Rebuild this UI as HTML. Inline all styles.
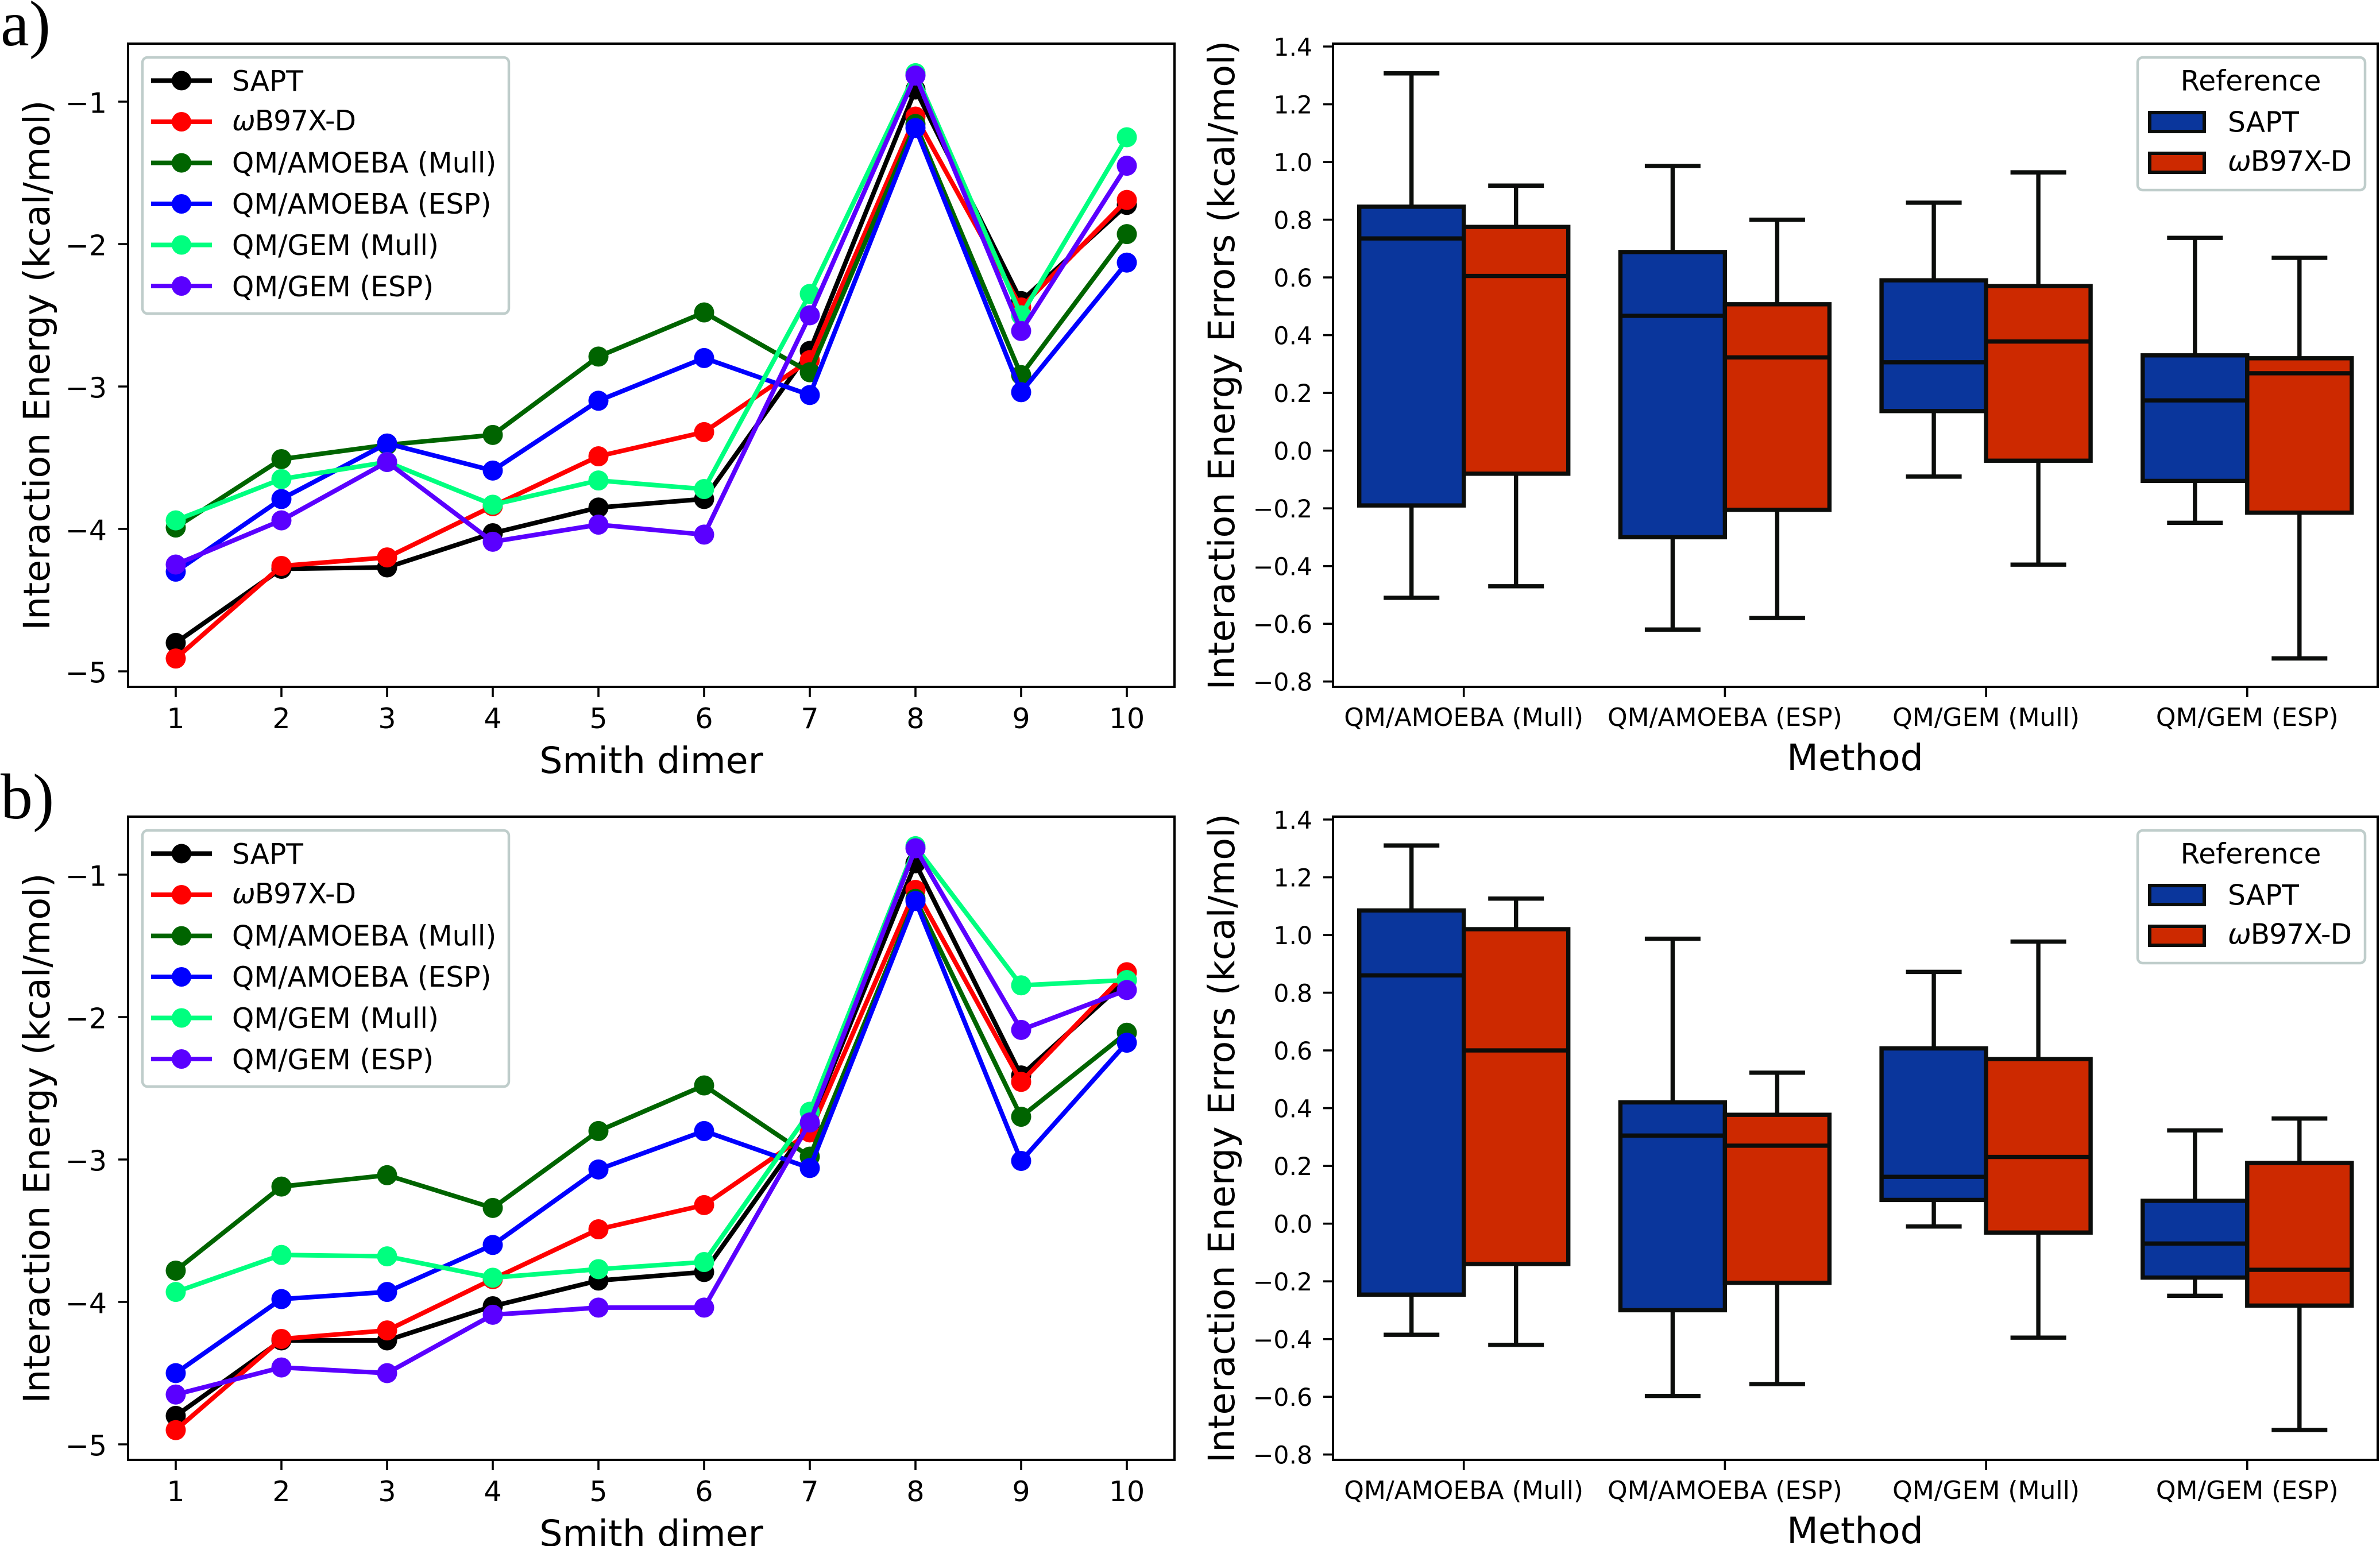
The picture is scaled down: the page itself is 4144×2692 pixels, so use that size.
<!DOCTYPE html>
<html lang="en">
<head>
<meta charset="utf-8">
<title>Interaction energies and errors</title>
<style>
html,body{margin:0;padding:0;background:#fff;}
svg{display:block;}
text{font-family:"DejaVu Sans","Liberation Sans",sans-serif;fill:#000;}
.panel-tag{font-family:"Liberation Serif",serif;font-size:112px;}
.axis-title{font-size:63.4px;}
.leg{font-size:48.6px;}
.leg-box{fill:#fff;stroke:#bfcdcb;stroke-width:4.5;}
</style>
</head>
<body>
<svg id="fig" xmlns="http://www.w3.org/2000/svg" width="4144" height="2692" viewBox="0 0 4144 2692">
  <rect x="0" y="0" width="4144" height="2692" fill="#fff"/>

  <!-- Panel a -->
  <g id="panel-a">
    <text class="panel-tag" x="1" y="79">a)</text>
    <g id="a-line"></g>
    <g id="a-box"></g>
    <text class="axis-title" transform="translate(86,636) rotate(-90)" text-anchor="middle">Interaction Energy (kcal/mol)</text>
    <text class="axis-title" x="1134" y="1346" text-anchor="middle">Smith dimer</text>
    <text class="axis-title" transform="translate(2149,636) rotate(-90)" text-anchor="middle">Interaction Energy Errors (kcal/mol)</text>
    <text class="axis-title" x="3230" y="1341" text-anchor="middle">Method</text>
    <g>
      <rect class="leg-box" x="248" y="100" width="638" height="446" rx="9"/>
      <g><line x1="263" x2="369" y1="140.4" y2="140.4" stroke="#000" stroke-width="8"/><circle cx="316" cy="140.4" r="17" fill="#000"/><text class="leg" x="404" y="158">SAPT</text></g>
      <g><line x1="263" x2="369" y1="212" y2="212" stroke="#f00" stroke-width="8"/><circle cx="316" cy="212" r="17" fill="#f00"/><text class="leg" x="404" y="227" textLength="216"><tspan font-style="italic">ω</tspan>B97X-D</text></g>
      <g><line x1="263" x2="369" y1="283.6" y2="283.6" stroke="#006400" stroke-width="8"/><circle cx="316" cy="283.6" r="17" fill="#006400"/><text class="leg" x="404" y="300.5">QM/AMOEBA (Mull)</text></g>
      <g><line x1="263" x2="369" y1="355" y2="355" stroke="#00f" stroke-width="8"/><circle cx="316" cy="355" r="17" fill="#00f"/><text class="leg" x="404" y="372">QM/AMOEBA (ESP)</text></g>
      <g><line x1="263" x2="369" y1="426.5" y2="426.5" stroke="#00ff7f" stroke-width="8"/><circle cx="316" cy="426.5" r="17" fill="#00ff7f"/><text class="leg" x="404" y="444">QM/GEM (Mull)</text></g>
      <g><line x1="263" x2="369" y1="498" y2="498" stroke="#5a00ff" stroke-width="8"/><circle cx="316" cy="498" r="17" fill="#5a00ff"/><text class="leg" x="404" y="516">QM/GEM (ESP)</text></g>
    </g>
    <g>
      <rect class="leg-box" x="3722" y="100" width="396" height="231" rx="9"/>
      <text class="leg" x="3919" y="157.5" text-anchor="middle">Reference</text>
      <g><rect x="3743" y="196" width="95" height="33" fill="#0a369c" stroke="#0b0d0b" stroke-width="6"/><text class="leg" x="3879" y="229.5">SAPT</text></g>
      <g><rect x="3743" y="267" width="95" height="33" fill="#cd2900" stroke="#0b0d0b" stroke-width="6"/><text class="leg" x="3879" y="297.5" textLength="216"><tspan font-style="italic">ω</tspan>B97X-D</text></g>
    </g>
  </g>

  <!-- Panel b -->
  <g id="panel-b" transform="translate(0,1346)">
    <text class="panel-tag" x="1" y="79">b)</text>
    <g id="b-line"></g>
    <g id="b-box"></g>
    <text class="axis-title" transform="translate(86,636) rotate(-90)" text-anchor="middle">Interaction Energy (kcal/mol)</text>
    <text class="axis-title" x="1134" y="1346" text-anchor="middle">Smith dimer</text>
    <text class="axis-title" transform="translate(2149,636) rotate(-90)" text-anchor="middle">Interaction Energy Errors (kcal/mol)</text>
    <text class="axis-title" x="3230" y="1341" text-anchor="middle">Method</text>
    <g>
      <rect class="leg-box" x="248" y="100" width="638" height="446" rx="9"/>
      <g><line x1="263" x2="369" y1="140.4" y2="140.4" stroke="#000" stroke-width="8"/><circle cx="316" cy="140.4" r="17" fill="#000"/><text class="leg" x="404" y="158">SAPT</text></g>
      <g><line x1="263" x2="369" y1="212" y2="212" stroke="#f00" stroke-width="8"/><circle cx="316" cy="212" r="17" fill="#f00"/><text class="leg" x="404" y="227" textLength="216"><tspan font-style="italic">ω</tspan>B97X-D</text></g>
      <g><line x1="263" x2="369" y1="283.6" y2="283.6" stroke="#006400" stroke-width="8"/><circle cx="316" cy="283.6" r="17" fill="#006400"/><text class="leg" x="404" y="300.5">QM/AMOEBA (Mull)</text></g>
      <g><line x1="263" x2="369" y1="355" y2="355" stroke="#00f" stroke-width="8"/><circle cx="316" cy="355" r="17" fill="#00f"/><text class="leg" x="404" y="372">QM/AMOEBA (ESP)</text></g>
      <g><line x1="263" x2="369" y1="426.5" y2="426.5" stroke="#00ff7f" stroke-width="8"/><circle cx="316" cy="426.5" r="17" fill="#00ff7f"/><text class="leg" x="404" y="444">QM/GEM (Mull)</text></g>
      <g><line x1="263" x2="369" y1="498" y2="498" stroke="#5a00ff" stroke-width="8"/><circle cx="316" cy="498" r="17" fill="#5a00ff"/><text class="leg" x="404" y="516">QM/GEM (ESP)</text></g>
    </g>
    <g>
      <rect class="leg-box" x="3722" y="100" width="396" height="231" rx="9"/>
      <text class="leg" x="3919" y="157.5" text-anchor="middle">Reference</text>
      <g><rect x="3743" y="196" width="95" height="33" fill="#0a369c" stroke="#0b0d0b" stroke-width="6"/><text class="leg" x="3879" y="229.5">SAPT</text></g>
      <g><rect x="3743" y="267" width="95" height="33" fill="#cd2900" stroke="#0b0d0b" stroke-width="6"/><text class="leg" x="3879" y="297.5" textLength="216"><tspan font-style="italic">ω</tspan>B97X-D</text></g>
    </g>
  </g>
</svg>

<script>
// ---------- shared categories and ticks ----------
const dimers = [1, 2, 3, 4, 5, 6, 7, 8, 9, 10];
const energyTicks = [-1, -2, -3, -4, -5];
const energyTickLabels = ['\u22121', '\u22122', '\u22123', '\u22124', '\u22125'];
const methods = ['QM/AMOEBA (Mull)', 'QM/AMOEBA (ESP)', 'QM/GEM (Mull)', 'QM/GEM (ESP)'];
const errorTicks = [1.4, 1.2, 1.0, 0.8, 0.6, 0.4, 0.2, 0.0, -0.2, -0.4, -0.6, -0.8];
const errorTickLabels = ['1.4', '1.2', '1.0', '0.8', '0.6', '0.4', '0.2', '0.0', '\u22120.2', '\u22120.4', '\u22120.6', '\u22120.8'];

// ---------- panel a: energies ----------
const aSapt = [-4.80, -4.28, -4.27, -4.03, -3.85, -3.79, -2.75, -0.915, -2.40, -1.725];
const aWb97 = [-4.91, -4.26, -4.20, -3.84, -3.49, -3.32, -2.815, -1.105, -2.445, -1.69];
const aAmoebaMull = [-3.99, -3.51, -3.41, -3.34, -2.79, -2.48, -2.90, -1.157, -2.92, -1.93];
const aAmoebaEsp = [-4.30, -3.79, -3.40, -3.59, -3.10, -2.80, -3.06, -1.185, -3.04, -2.13];
const aGemMull = [-3.94, -3.65, -3.53, -3.83, -3.66, -3.72, -2.35, -0.80, -2.50, -1.25];
const aGemEsp = [-4.25, -3.94, -3.53, -4.09, -3.97, -4.04, -2.50, -0.817, -2.61, -1.45];

// ---------- panel b: energies ----------
const bSapt = [-4.80, -4.27, -4.27, -4.03, -3.85, -3.79, -2.75, -0.92, -2.41, -1.74];
const bWb97 = [-4.90, -4.26, -4.20, -3.84, -3.49, -3.32, -2.81, -1.107, -2.455, -1.685];
const bAmoebaMull = [-3.78, -3.19, -3.11, -3.34, -2.80, -2.48, -2.98, -1.17, -2.70, -2.11];
const bAmoebaEsp = [-4.50, -3.98, -3.93, -3.60, -3.07, -2.80, -3.06, -1.185, -3.01, -2.18];
const bGemMull = [-3.93, -3.67, -3.68, -3.83, -3.77, -3.72, -2.665, -0.80, -1.777, -1.74];
const bGemEsp = [-4.65, -4.46, -4.50, -4.09, -4.04, -4.04, -2.74, -0.815, -2.09, -1.81];

// ---------- panel a: error box statistics (one value per method) ----------
const aSaptHigh = [1.307, 0.986, 0.859, 0.737];
const aSaptQ3 = [0.845, 0.688, 0.59, 0.33];
const aSaptMedian = [0.735, 0.467, 0.306, 0.174];
const aSaptQ1 = [-0.19, -0.30, 0.137, -0.105];
const aSaptLow = [-0.51, -0.62, -0.09, -0.25];
const aWbHigh = [0.918, 0.80, 0.964, 0.668];
const aWbQ3 = [0.775, 0.507, 0.57, 0.32];
const aWbMedian = [0.605, 0.323, 0.378, 0.268];
const aWbQ1 = [-0.08, -0.205, -0.035, -0.215];
const aWbLow = [-0.47, -0.58, -0.395, -0.72];

// ---------- panel b: error box statistics ----------
const bSaptHigh = [1.31, 0.987, 0.872, 0.323];
const bSaptQ3 = [1.085, 0.42, 0.607, 0.079];
const bSaptMedian = [0.86, 0.305, 0.162, -0.069];
const bSaptQ1 = [-0.246, -0.30, 0.082, -0.187];
const bSaptLow = [-0.385, -0.597, -0.01, -0.25];
const bWbHigh = [1.126, 0.523, 0.977, 0.364];
const bWbQ3 = [1.02, 0.377, 0.57, 0.21];
const bWbMedian = [0.60, 0.27, 0.231, -0.16];
const bWbQ1 = [-0.14, -0.205, -0.031, -0.284];
const bWbLow = [-0.42, -0.556, -0.395, -0.715];

// ---------- axis functions ----------
function xDimer(d) { return 306 + (d - 1) * 184; }
function yEnergy(v) { return 177 + (-1 - v) * 248; }
function xMethod(i) { return 2548.7 + i * 454.7; }
function yError(v) { return 81 + (1.4 - v) * 502.6; }

const NS = 'http://www.w3.org/2000/svg';
const INK = '#0b0d0b';

function make(tag, parent, attrs) {
  const el = document.createElementNS(NS, tag);
  for (const k in attrs) el.setAttribute(k, attrs[k]);
  parent.appendChild(el);
  return el;
}

function drawSeries(parent, values, color) {
  const pts = values.map((v, i) => xDimer(dimers[i]) + ',' + yEnergy(v)).join(' ');
  const line = make('polyline', parent, { points: pts, fill: 'none', stroke: color, 'stroke-width': 8, 'stroke-linejoin': 'round', 'stroke-linecap': 'square' });
  
  
  values.forEach((v, i) => {
    const c = make('circle', parent, { cx: xDimer(dimers[i]), cy: yEnergy(v), r: 17.5, fill: color });
    
    
  });
}

function drawFrame(parent, x0, y0, x1, y1) {
  const f = make('rect', parent, { x: x0, y: y0, width: x1 - x0, height: y1 - y0, fill: 'none', stroke: '#000', 'stroke-width': 4 });
  
  
}

function tickMark(parent, x1, y1, x2, y2) {
  const t = make('line', parent, { x1: x1, y1: y1, x2: x2, y2: y2, stroke: '#000', 'stroke-width': 3.6 });
  
  
}

function tickLabel(parent, x, y, str, anchor, size) {
  const t = make('text', parent, { x: x, y: y, 'text-anchor': anchor, 'font-size': size });
  t.textContent = str;
  
  
}

function drawEnergyChart(id, seriesList) {
  const g = document.getElementById(id);
  const colors = ['#000000', '#ff0000', '#006400', '#0000ff', '#00ff7f', '#5a00ff'];
  seriesList.forEach((values, i) => drawSeries(g, values, colors[i]));
  drawFrame(g, 223, 76, 2045, 1196);
  energyTicks.forEach((v, i) => {
    tickMark(g, 206, yEnergy(v), 223, yEnergy(v));
    tickLabel(g, 186, yEnergy(v) + 19.5, energyTickLabels[i], 'end', 49);
  });
  dimers.forEach(d => {
    tickMark(g, xDimer(d), 1196, xDimer(d), 1214);
    tickLabel(g, xDimer(d), 1268, String(d), 'middle', 49);
  });
}

function drawOneBox(g, cx, high, q3, med, q1, low, fill) {
  const halfBox = 91, halfCap = 48.5, lw = 7.4;
  const whiskerTop = make('line', g, { x1: cx, x2: cx, y1: yError(high), y2: yError(q3), stroke: INK, 'stroke-width': lw });
  
  
  const whiskerBottom = make('line', g, { x1: cx, x2: cx, y1: yError(q1), y2: yError(low), stroke: INK, 'stroke-width': lw });
  
  
  const capTop = make('line', g, { x1: cx - halfCap, x2: cx + halfCap, y1: yError(high), y2: yError(high), stroke: INK, 'stroke-width': lw });
  
  
  const capBottom = make('line', g, { x1: cx - halfCap, x2: cx + halfCap, y1: yError(low), y2: yError(low), stroke: INK, 'stroke-width': lw });
  
  
  const box = make('rect', g, { x: cx - halfBox, y: yError(q3), width: halfBox * 2, height: yError(q1) - yError(q3), fill: fill, stroke: INK, 'stroke-width': lw });
  
  
  const median = make('line', g, { x1: cx - halfBox, x2: cx + halfBox, y1: yError(med), y2: yError(med), stroke: INK, 'stroke-width': lw });
  
  
}

function drawErrorChart(id, sapt, wb) {
  const g = document.getElementById(id);
  methods.forEach((m, i) => {
    drawOneBox(g, xMethod(i) - 91, sapt[0][i], sapt[1][i], sapt[2][i], sapt[3][i], sapt[4][i], '#0a369c');
    drawOneBox(g, xMethod(i) + 91, wb[0][i], wb[1][i], wb[2][i], wb[3][i], wb[4][i], '#cd2900');
  });
  drawFrame(g, 2321, 76, 4140, 1196);
  errorTicks.forEach((v, i) => {
    tickMark(g, 2304, yError(v), 2321, yError(v));
    tickLabel(g, 2285, yError(v) + 16, errorTickLabels[i], 'end', 42.5);
  });
  methods.forEach((m, i) => {
    tickMark(g, xMethod(i), 1196, xMethod(i), 1214);
    tickLabel(g, xMethod(i), 1264, m, 'middle', 44);
  });
}

drawEnergyChart('a-line', [aSapt, aWb97, aAmoebaMull, aAmoebaEsp, aGemMull, aGemEsp]);
drawEnergyChart('b-line', [bSapt, bWb97, bAmoebaMull, bAmoebaEsp, bGemMull, bGemEsp]);
drawErrorChart('a-box', [aSaptHigh, aSaptQ3, aSaptMedian, aSaptQ1, aSaptLow], [aWbHigh, aWbQ3, aWbMedian, aWbQ1, aWbLow]);
drawErrorChart('b-box', [bSaptHigh, bSaptQ3, bSaptMedian, bSaptQ1, bSaptLow], [bWbHigh, bWbQ3, bWbMedian, bWbQ1, bWbLow]);
</script>
</body>
</html>
